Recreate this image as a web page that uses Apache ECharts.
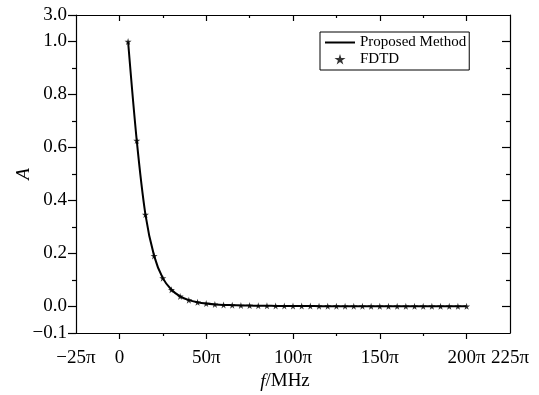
<!DOCTYPE html>
<html>
<head>
<meta charset="utf-8">
<script src="https://cdn.jsdelivr.net/npm/echarts@6/dist/echarts.min.js"></script>
<style>html,body{margin:0;padding:0;background:#fff}#c{width:539px;height:395px}</style>
</head>
<body>
<div id="c"></div>
<script>
// frequency in units of pi (f = k*pi MHz)
const freqPi = [5,10,15,20,25,30,35,40,45,50,55,60,65,70,75,80,85,90,95,100,
                105,110,115,120,125,130,135,140,145,150,155,160,165,170,175,180,185,190,195,200];
const proposed = [1.000,0.626,0.347,0.191,0.107,0.063,0.038,0.024,0.016,0.011,
                  0.008,0.006,0.005,0.004,0.0035,0.003,0.0026,0.0023,0.002,0.0018,
                  0.0016,0.0015,0.0014,0.0013,0.0012,0.0011,0.0010,0.0010,0.0009,0.0009,
                  0.0008,0.0008,0.0007,0.0007,0.0007,0.0006,0.0006,0.0006,0.0005,0.0005];
const fdtd = [1.000,0.626,0.347,0.191,0.107,0.063,0.038,0.024,0.016,0.011,
              0.008,0.006,0.005,0.004,0.0035,0.003,0.0026,0.0023,0.002,0.0018,
              0.0016,0.0015,0.0014,0.0013,0.0012,0.0011,0.0010,0.0010,0.0009,0.0009,
              0.0008,0.0008,0.0007,0.0007,0.0007,0.0006,0.0006,0.0006,0.0005,0.0005];
const xLabelTicks = [-25,0,50,100,150,200,225];
const xMajorTicks = [0,50,100,150,200];
const xMinorTicks = [25,75,125,175];
const yLabelTicks = [-0.1,0,0.2,0.4,0.6,0.8,1.0,1.1];
const yMajorTicks = [-0.1,0,0.2,0.4,0.6,0.8,1.0,1.1];
const yRightTicks = [0,0.2,0.4,0.6,0.8,1.0];
const yMinorTicks = [0.1,0.3,0.5,0.7,0.9];
const yTopLabel = '3.0';

const FONT = 'Liberation Serif';
const starPts = 'M50,0 L61,35 L98,35 L68,57 L79,91 L50,70 L21,91 L32,57 L2,35 L39,35 Z';
const star = 'path://' + starPts;
// same star, padded (move-to corners) so that it stays small inside the legend icon box
const starLegend = 'path://M-80,-5 M180,100 ' + starPts;
const lineLegend = 'path://M0,0 H30 V2 H0 Z';
const axisLine = {show:true, onZero:false, lineStyle:{color:'#000', width:1.2}};
const noLine = {show:false, onZero:false};

function xFmt(v){
  if (Math.abs(v) < 1e-9) return '0';
  return (v < 0 ? '\u2212' + (-v) : v) + '\u03c0';
}
function yFmt(v){
  if (v > 1.05) return yTopLabel;
  const s = Math.abs(v).toFixed(1);
  return (v < -1e-9 ? '\u2212' : '') + s;
}
function xAx(pos, ticks, len, inside, line, labels){
  return {type:'value', position:pos, min:-25, max:225, interval:25,
    axisLine: line ? axisLine : noLine,
    axisTick:{show:true, inside:inside, length:len, customValues:ticks, lineStyle:{color:'#000', width:1.2}},
    axisLabel: labels ? {show:true, customValues:xLabelTicks, formatter:xFmt, color:'#000', fontFamily:FONT, fontSize:19, margin:16} : {show:false},
    splitLine:{show:false}};
}
function yAx(pos, ticks, len, inside, line, labels){
  return {type:'value', position:pos, min:-0.1, max:1.1, interval:0.1,
    axisLine: line ? axisLine : noLine,
    axisTick:{show:true, inside:inside, length:len, customValues:ticks, lineStyle:{color:'#000', width:1.2}},
    axisLabel: labels ? {show:true, customValues:yLabelTicks, formatter:yFmt, color:'#000', fontFamily:FONT, fontSize:19, margin:9} : {show:false},
    splitLine:{show:false}};
}
const xb = xAx('bottom', xMajorTicks, 6, false, true, true);
xb.name = '{i|f}/MHz';
xb.nameLocation = 'middle';
xb.nameGap = 39;
xb.nameMoveOverlap = false;
xb.nameTextStyle = {color:'#000', fontFamily:FONT, fontSize:19, padding:[0,16,0,0], rich:{i:{fontStyle:'italic', fontFamily:FONT, fontSize:19, color:'#000'}}};
const yl = yAx('left', yMajorTicks, 8, false, true, true);
yl.name = 'A';
yl.nameLocation = 'middle';
yl.nameGap = 43;
yl.nameMoveOverlap = false;
yl.nameTextStyle = {color:'#000', fontFamily:FONT, fontSize:19, fontStyle:'italic'};

const option = {
  animation:false,
  backgroundColor:'#fff',
  grid:{left:76, right:29, top:15, bottom:62, containLabel:false, outerBoundsMode:'none'},
  legend:{
    orient:'vertical', left:320, top:32,
    padding:[3,3,3,5], itemGap:2, itemWidth:30, itemHeight:14,
    borderColor:'#000', borderWidth:1,
    textStyle:{color:'#000', fontFamily:FONT, fontSize:15},
    data:[
      {name:'Proposed Method', icon:lineLegend, itemStyle:{color:'#000'}},
      {name:'FDTD', icon:starLegend, itemStyle:{color:'#000'}}
    ]
  },
  xAxis:[
    xb,
    xAx('bottom', xMinorTicks, 3, false, false, false),
    xAx('top', xMajorTicks, 6, true, true, false),
    xAx('top', xMinorTicks, 3, true, false, false)
  ],
  yAxis:[
    yl,
    yAx('left', yMinorTicks, 4, false, false, false),
    yAx('right', yRightTicks, 8, true, true, false),
    yAx('right', yMinorTicks, 4, true, false, false)
  ],
  series:[
    {name:'Proposed Method', type:'line', xAxisIndex:0, yAxisIndex:0,
     data: freqPi.map((f,i)=>[f, proposed[i]]),
     symbol:'none', smooth:0.3, lineStyle:{color:'#000', width:2}, itemStyle:{color:'#000'}, z:2},
    {name:'FDTD', type:'scatter', xAxisIndex:0, yAxisIndex:0,
     data: freqPi.map((f,i)=>[f, fdtd[i]]),
     symbol:star, symbolSize:7, itemStyle:{color:'#000'}, z:3}
  ]
};
const chart = echarts.init(document.getElementById('c'), null, {renderer:'canvas'});
chart.setOption(option);
</script>
</body>
</html>
